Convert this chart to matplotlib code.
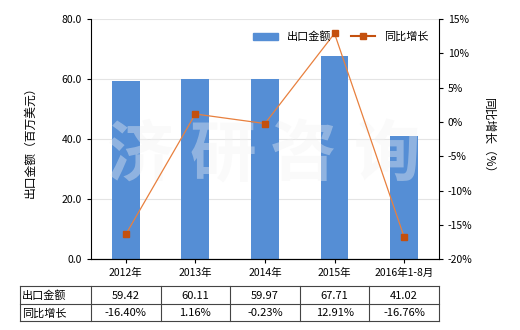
import matplotlib
matplotlib.use('Agg')
import matplotlib.pyplot as plt
from matplotlib.lines import Line2D

plt.rcParams['font.family'] = ['Noto Sans CJK SC', 'DejaVu Sans']
plt.rcParams['font.size'] = 8

categories = ['2012年', '2013年', '2014年', '2015年', '2016年1-8月']
export_value = [59.42, 60.11, 59.97, 67.71, 41.02]
yoy_growth = [-16.40, 1.16, -0.23, 12.91, -16.76]
value_labels = ['59.42', '60.11', '59.97', '67.71', '41.02']
growth_labels = ['-16.40%', '1.16%', '-0.23%', '12.91%', '-16.76%']

bar_color = '#558ED5'
line_color = '#E8803E'
marker_color = '#C4500E'

fig = plt.figure(figsize=(5.2, 3.3), dpi=100)
ax = fig.add_axes([0.175, 0.215, 0.669, 0.727])
x = list(range(len(categories)))

ax.bar(x, export_value, width=0.4, color=bar_color, zorder=2, label='出口金额')
ax.set_xlim(-0.5, len(categories) - 0.5)
ax.set_ylim(0, 80)
ax.set_yticks([0, 20, 40, 60, 80])
ax.set_yticklabels(['0.0', '20.0', '40.0', '60.0', '80.0'])
ax.set_xticks(x)
ax.set_xticklabels(categories)
ax.grid(axis='y', color='#e4e4e4', linewidth=0.8, zorder=0)
ax.set_ylabel('出口金额（百万美元）', fontsize=8.5, labelpad=18)
ax.spines['top'].set_visible(False)
ax.spines['right'].set_visible(False)
ax.tick_params(axis='both', labelsize=7.5, length=3, direction='out')

ax2 = ax.twinx()
ax2.plot(x, yoy_growth, color=line_color, linewidth=0.9, marker='s',
         markersize=4.5, markerfacecolor=marker_color, markeredgecolor=marker_color,
         label='同比增长', zorder=3)
ax2.set_ylim(-20, 15)
ax2.set_yticks([-20, -15, -10, -5, 0, 5, 10, 15])
ax2.set_yticklabels([f'{v}%' for v in [-20, -15, -10, -5, 0, 5, 10, 15]])
ax2.set_ylabel('同比增长（%）', rotation=270, labelpad=16, fontsize=8.5)
ax2.spines['top'].set_visible(False)
ax2.spines['left'].set_visible(False)
ax2.tick_params(axis='y', labelsize=7.5, length=3, direction='out')

# watermark
for ch, xc in zip('济研咨询', [0.14, 0.38, 0.61, 0.85]):
    ax2.text(xc, 0.43, ch, transform=ax.transAxes, fontsize=48,
             fontweight='bold', color='#f2f2f2', alpha=0.38,
             ha='center', va='center', zorder=1)

handles = [plt.Rectangle((0, 0), 1, 1, color=bar_color),
           Line2D([0], [0], color=marker_color, linewidth=1.5, marker='s',
                  markersize=4, markerfacecolor=marker_color)]
ax2.legend(handles, ['出口金额', '同比增长'], loc='upper right', ncol=2,
           frameon=False, fontsize=8, bbox_to_anchor=(1.0, 0.99),
           handlelength=2.2, columnspacing=1.8)

# table below the chart
W, H = 520.0, 330.0
col_edges = [20, 91, 160.6, 230.2, 299.8, 369.4, 439]
row_edges = [286, 304, 321]
for yy in row_edges:
    fig.add_artist(Line2D([col_edges[0] / W, col_edges[-1] / W],
                          [1 - yy / H, 1 - yy / H], color='#444444', linewidth=0.8))
for xx in col_edges:
    fig.add_artist(Line2D([xx / W, xx / W], [1 - row_edges[0] / H, 1 - row_edges[-1] / H],
                          color='#444444', linewidth=0.8))
rows = [('出口金额', value_labels), ('同比增长', growth_labels)]
for i, (name, vals) in enumerate(rows):
    yc = 1 - ((row_edges[i] + row_edges[i + 1]) / 2 + 1) / H
    fig.text(22 / W, yc, name, ha='left', va='center', fontsize=8)
    for j, v in enumerate(vals):
        xc = (col_edges[j + 1] + col_edges[j + 2]) / 2 / W
        fig.text(xc, yc, v, ha='center', va='center', fontsize=8)

fig.savefig('out.png', dpi=100)
